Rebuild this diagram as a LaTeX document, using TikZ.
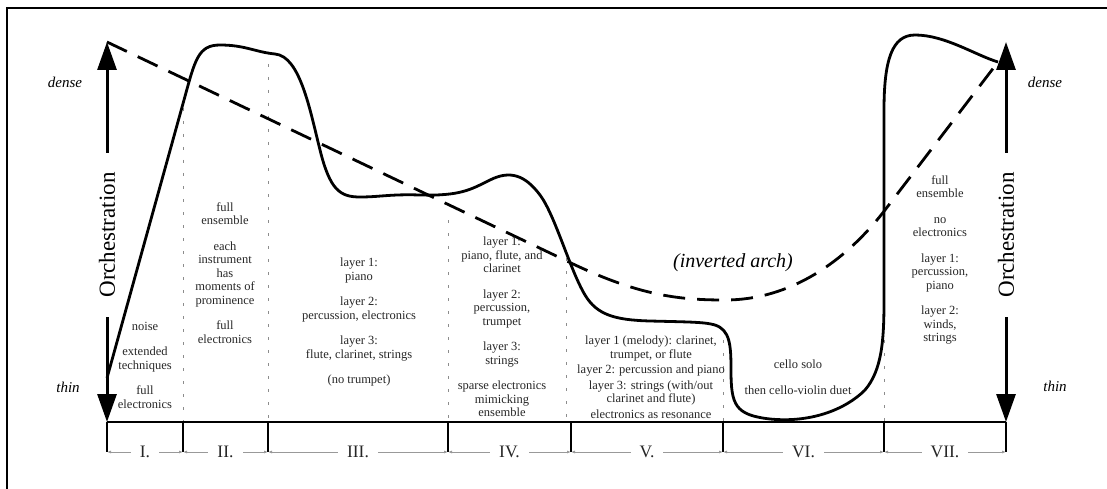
\documentclass[tikz,border=0pt]{standalone}
\usepackage{fontspec}
\setmainfont{Liberation Serif}
\usetikzlibrary{arrows.meta}

\begin{document}
\begin{tikzpicture}[x=1pt,y=-1pt]

	\tikzstyle{frame}=[line width=2.5pt]
	\tikzstyle{axis}=[line width=3pt,-{Triangle[length=28pt,width=19pt]}]
	\tikzstyle{base}=[line width=2.5pt]
	\tikzstyle{guide}=[black!45,line width=0.8pt,dash pattern=on 3pt off 10pt]
	\tikzstyle{dim}=[black!40,line width=1pt,{Latex[length=4pt,width=3pt]}-{Latex[length=4pt,width=3pt]}]
	\tikzstyle{roman}=[fill=white,inner xsep=9pt,inner ysep=2pt,text=black!85,font=\fontsize{17.5}{17.5}\selectfont]
	\tikzstyle{desc}=[align=center,inner sep=0pt,text=black!85,font=\fontsize{12.5}{13.5}\selectfont]
	\tikzstyle{level}=[font=\itshape\fontsize{15}{15}\selectfont]
	\tikzstyle{orchtext}=[rotate=90,font=\fontsize{23}{23}\selectfont]
	\tikzstyle{orch}=[line width=2.8pt,line join=round]
	\tikzstyle{arch}=[line width=2.8pt,dash pattern=on 22pt off 12pt]

	\useasboundingbox (0,0) rectangle (1107,489);

	% frame of the page
	\coordinate (fa) at (7,489);
	\coordinate (fb) at (7,8);
	\coordinate (fc) at (1107,8);
	\draw[frame] (fa) -- (fb) -- (fc);

	% section borders on the time axis
	\coordinate (t0) at (107,422);
	\coordinate (t1) at (183,422);
	\coordinate (t2) at (268,422);
	\coordinate (t3) at (448,422);
	\coordinate (t4) at (571,422);
	\coordinate (t5) at (723,422);
	\coordinate (t6) at (884,422);
	\coordinate (t7) at (1006,422);

	\coordinate (b0) at (107,452);
	\coordinate (b1) at (183,452);
	\coordinate (b2) at (268,452);
	\coordinate (b3) at (448,452);
	\coordinate (b4) at (571,452);
	\coordinate (b5) at (723,452);
	\coordinate (b6) at (884,452);
	\coordinate (b7) at (1006,452);

	% orchestration axes
	\coordinate (upL) at (107,153);
	\coordinate (topL) at (107,42);
	\coordinate (dnL) at (107,317);
	\coordinate (upR) at (1006,153);
	\coordinate (topR) at (1006,42);
	\coordinate (dnR) at (1006,317);

	\draw[axis] (upL) -- (topL);
	\draw[axis] (dnL) -- (t0);
	\draw[axis] (upR) -- (topR);
	\draw[axis] (dnR) -- (t7);

	\node[orchtext] (orchL) at (107,235) {Orchestration};
	\node[orchtext] (orchR) at (1006,235) {Orchestration};
	\node[level] (denseL) at (65,82) {dense};
	\node[level] (thinL) at (68,387) {thin};
	\node[level] (denseR) at (1045,82) {dense};
	\node[level] (thinR) at (1055,386) {thin};

	% dotted section guides
	\coordinate (g1) at (183,108);
	\coordinate (g2) at (268,64);
	\coordinate (g3) at (448,220);
	\coordinate (g4) at (566,258);
	\coordinate (g4b) at (566,422);
	\coordinate (g5) at (723,340);
	\coordinate (g6) at (884,210);

	\draw[guide] (g1) -- (t1);
	\draw[guide] (g2) -- (t2);
	\draw[guide] (g3) -- (t3);
	\draw[guide] (g4) -- (g4b);
	\draw[guide] (g5) -- (t5);
	\draw[guide] (g6) -- (t6);

	% time axis with ticks
	\draw[base] (t0) -- (t7);
	\draw[base] (t0) -- (b0);
	\draw[base] (t1) -- (b1);
	\draw[base] (t2) -- (b2);
	\draw[base] (t3) -- (b3);
	\draw[base] (t4) -- (b4);
	\draw[base] (t5) -- (b5);
	\draw[base] (t6) -- (b6);
	\draw[base] (t7) -- (b7);

	\draw[dim] (b0) -- (b1) node[roman,midway] (sI) {I.};
	\draw[dim] (b1) -- (b2) node[roman,midway] (sII) {II.};
	\draw[dim] (b2) -- (b3) node[roman,midway] (sIII) {III.};
	\draw[dim] (b3) -- (b4) node[roman,midway] (sIV) {IV.};
	\draw[dim] (b4) -- (b5) node[roman,midway] (sV) {V.};
	\draw[dim] (b5) -- (b6) node[roman,midway] (sVI) {VI.};
	\draw[dim] (b6) -- (b7) node[roman,midway] (sVII) {VII.};

	% inverted arch
	\coordinate (archEnd) at (998,62);
	\draw[arch] (topL) -- (571,263) .. controls (640,296) and (680,300) .. (725,300)
		.. controls (790,300) and (845,262) .. (885,210) -- (archEnd);
	\node[font=\itshape\fontsize{20}{20}\selectfont] (archlabel) at (733,263) {(inverted arch)};

	% orchestration curve
	\coordinate (orchStart) at (107,378);
	\draw[orch] (orchStart) -- (184,100)
		.. controls (195,60) and (198,45) .. (220,45)
		.. controls (245,45) and (255,52) .. (275,54)
		.. controls (300,56) and (310,110) .. (320,150)
		.. controls (330,190) and (340,197) .. (360,197)
		.. controls (380,197) and (390,194) .. (420,195)
		.. controls (460,196) and (470,190) .. (490,180)
		.. controls (510,170) and (525,175) .. (540,195)
		.. controls (555,215) and (570,270) .. (585,295)
		.. controls (597,315) and (615,320) .. (650,321)
		.. controls (690,322) and (705,322) .. (715,325)
		.. controls (730,330) and (731,345) .. (731,370)
		.. controls (731,405) and (735,415) .. (770,419)
		.. controls (810,423) and (845,410) .. (865,390)
		.. controls (882,370) and (884,340) .. (884,300)
		-- (884,110)
		.. controls (884,60) and (892,35) .. (915,35)
		.. controls (945,35) and (975,55) .. (archEnd);

	% section contents
	\node[desc] (txtI) at (145,365) {noise\\[12pt]extended\\techniques\\[12pt]full\\electronics};
	\node[desc] (txtII) at (225,273) {full\\ensemble\\[12pt]each\\instrument\\has\\moments of\\prominence\\[12pt]full\\electronics};
	\node[desc] (txtIII) at (359,322) {layer 1:\\piano\\[12pt]layer 2:\\percussion, electronics\\[12pt]layer 3:\\flute, clarinet, strings\\[12pt](no trumpet)};
	\node[desc] (txtIV) at (502,327) {layer 1:\\piano, flute, and\\clarinet\\[12pt]layer 2:\\percussion,\\trumpet\\[12pt]layer 3:\\strings\\[12pt]sparse electronics\\mimicking\\ensemble};
	\node[desc] (txtV) at (651,377) {layer 1 (melody): clarinet,\\trumpet, or flute\\[2pt]layer 2: percussion and piano\\[2pt]layer 3: strings (with/out\\clarinet and flute)\\[2pt]electronics as resonance};
	\node[desc] (txtVI) at (798,377) {cello solo\\[13pt]then cello-violin duet};
	\node[desc] (txtVII) at (940,260) {full\\ensemble\\[12pt]no\\electronics\\[12pt]layer 1:\\percussion,\\piano\\[12pt]layer 2:\\winds,\\strings};

\end{tikzpicture}
\end{document}
